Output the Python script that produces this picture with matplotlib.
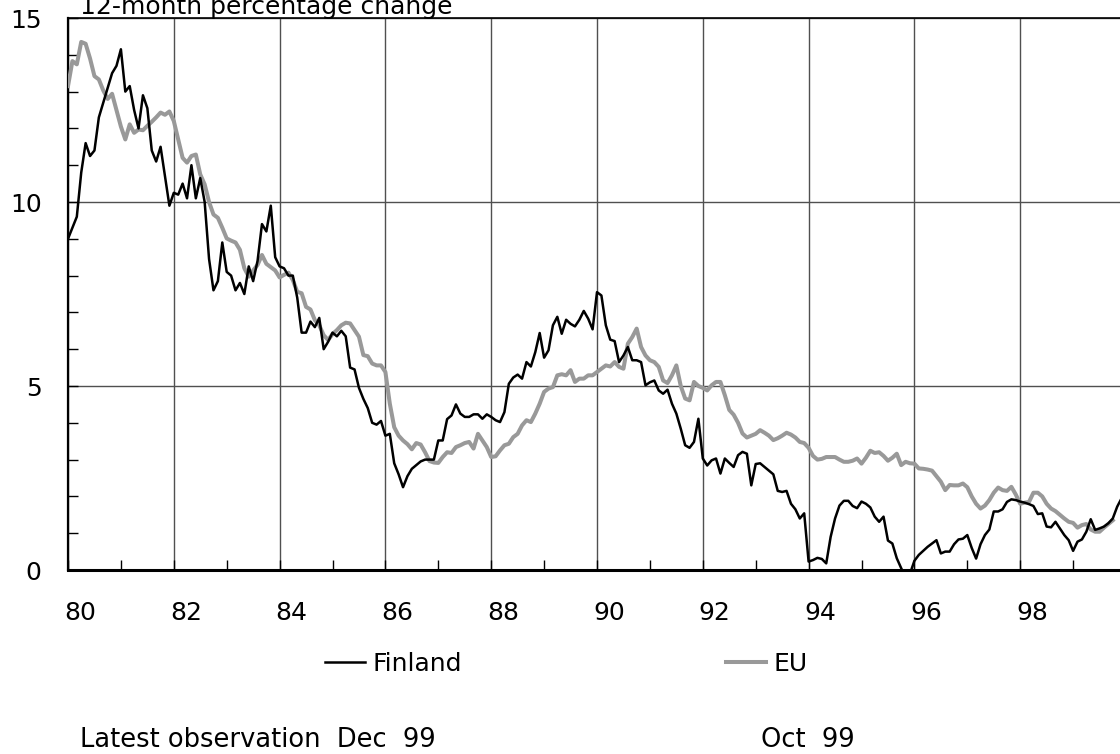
import matplotlib
matplotlib.use("Agg")
import matplotlib.pyplot as plt
import matplotlib.transforms as mtransforms
import numpy as np

# 12-month percentage change, monthly, Jan 1980 onwards
finland = [
    9.0, 9.3, 9.6, 10.8, 11.6, 11.25, 11.4, 12.3, 12.7, 13.1, 13.5, 13.7,          # 80
    14.15, 13.0, 13.15, 12.5, 12.0, 12.9, 12.55, 11.4, 11.1, 11.5, 10.7, 9.9,      # 81
    10.25, 10.2, 10.5, 10.1, 11.0, 10.1, 10.65, 10.0, 8.45, 7.6, 7.85, 8.9,        # 82
    8.1, 8.0, 7.6, 7.8, 7.5, 8.25, 7.85, 8.4, 9.4, 9.2, 9.9, 8.5,                  # 83
    8.25, 8.2, 8.0, 8.0, 7.4, 6.45, 6.45, 6.75, 6.6, 6.85, 6.0, 6.2,               # 84
    6.45, 6.35, 6.5, 6.35, 5.5, 5.45, 4.95, 4.65, 4.4, 4.0, 3.95, 4.05,            # 85
    3.65, 3.7, 2.9, 2.6, 2.25, 2.55, 2.75, 2.85, 2.95, 3.0, 3.0, 3.0,              # 86
    3.52, 3.52, 4.1, 4.2, 4.5, 4.25, 4.16, 4.16, 4.23, 4.23, 4.11, 4.23,           # 87
    4.16, 4.07, 4.02, 4.29, 5.06, 5.23, 5.31, 5.2, 5.65, 5.53, 5.92, 6.44,         # 88
    5.77, 5.97, 6.65, 6.88, 6.42, 6.8, 6.69, 6.62, 6.8, 7.04, 6.83, 6.54,          # 89
    7.55, 7.46, 6.65, 6.26, 6.22, 5.65, 5.83, 6.06, 5.7, 5.7, 5.65, 5.02,          # 90
    5.1, 5.15, 4.88, 4.79, 4.9, 4.52, 4.25, 3.84, 3.39, 3.32, 3.48, 4.11,          # 91
    3.03, 2.84, 2.98, 3.03, 2.62, 3.03, 2.91, 2.8, 3.12, 3.21, 3.16, 2.3,          # 92
    2.88, 2.9, 2.8, 2.7, 2.6, 2.15, 2.12, 2.15, 1.8, 1.65, 1.4, 1.54,              # 93
    0.23, 0.27, 0.33, 0.3, 0.18, 0.9, 1.4, 1.75, 1.88, 1.88, 1.74, 1.68,           # 94
    1.86, 1.8, 1.7, 1.45, 1.31, 1.45, 0.8, 0.72, 0.32, 0.05, -0.2, -0.1,           # 95
    0.25, 0.41, 0.52, 0.63, 0.72, 0.81, 0.45, 0.5, 0.5, 0.7, 0.83, 0.85,           # 96
    0.95, 0.6, 0.31, 0.7, 0.95, 1.1, 1.59, 1.59, 1.65, 1.85, 1.92, 1.9,            # 97
    1.86, 1.83, 1.79, 1.74, 1.52, 1.54, 1.18, 1.16, 1.31, 1.13, 0.95, 0.81,        # 98
    0.52, 0.77, 0.83, 1.04, 1.38, 1.09, 1.13, 1.18, 1.27, 1.4, 1.72, 1.95,         # 99
]

eu = [
    13.15, 13.83, 13.74, 14.35, 14.3, 13.9, 13.42, 13.33, 13.03, 12.8, 12.94, 12.5,   # 80
    12.05, 11.7, 12.11, 11.88, 11.97, 11.95, 12.07, 12.18, 12.3, 12.43, 12.37, 12.46, # 81
    12.2, 11.7, 11.2, 11.07, 11.25, 11.29, 10.75, 10.48, 10.0, 9.66, 9.57, 9.3,       # 82
    9.01, 8.95, 8.9, 8.7, 8.2, 7.97, 8.14, 8.29, 8.56, 8.32, 8.23, 8.14,              # 83
    7.95, 8.02, 8.08, 7.88, 7.56, 7.52, 7.15, 7.08, 6.79, 6.65, 6.38, 6.25,           # 84
    6.41, 6.52, 6.65, 6.72, 6.7, 6.52, 6.34, 5.84, 5.81, 5.61, 5.56, 5.56,            # 85
    5.38, 4.52, 3.88, 3.65, 3.52, 3.42, 3.28, 3.45, 3.41, 3.2, 2.96, 2.92,            # 86
    2.91, 3.07, 3.2, 3.18, 3.34, 3.39, 3.45, 3.48, 3.3, 3.7, 3.52, 3.34,              # 87
    3.07, 3.09, 3.25, 3.39, 3.43, 3.61, 3.7, 3.93, 4.07, 4.02, 4.25, 4.52,            # 88
    4.84, 4.93, 4.97, 5.29, 5.32, 5.29, 5.43, 5.11, 5.2, 5.2, 5.29, 5.29,             # 89
    5.38, 5.47, 5.56, 5.53, 5.65, 5.52, 5.47, 6.15, 6.33, 6.56, 6.06, 5.83,           # 90
    5.7, 5.65, 5.52, 5.15, 5.08, 5.29, 5.56, 5.0, 4.66, 4.61, 5.11, 5.0,              # 91
    4.95, 4.88, 5.02, 5.11, 5.11, 4.75, 4.35, 4.22, 4.0, 3.71, 3.6, 3.65,             # 92
    3.7, 3.8, 3.73, 3.65, 3.53, 3.58, 3.65, 3.73, 3.68, 3.6, 3.48, 3.45,              # 93
    3.32, 3.1, 3.0, 3.02, 3.07, 3.07, 3.07, 3.0, 2.94, 2.94, 2.97, 3.03,              # 94
    2.89, 3.05, 3.24, 3.18, 3.2, 3.1, 2.97, 3.05, 3.16, 2.85, 2.94, 2.9,              # 95
    2.89, 2.76, 2.75, 2.73, 2.7, 2.55, 2.4, 2.17, 2.31, 2.3, 2.3, 2.35,               # 96
    2.25, 2.0, 1.8, 1.67, 1.75, 1.9, 2.1, 2.24, 2.17, 2.15, 2.26, 2.05,               # 97
    1.8, 1.83, 1.85, 2.1, 2.1, 2.0, 1.8, 1.67, 1.6, 1.5, 1.4, 1.31,                   # 98
    1.28, 1.15, 1.22, 1.25, 1.1, 1.04, 1.04, 1.15, 1.25, 1.35,                        # 99 (to Oct)
]

year_ticks = [80, 82, 84, 86, 88, 90, 92, 94, 96, 98]
year_labels = ["80", "82", "84", "86", "88", "90", "92", "94", "96", "98"]
y_ticks = [0, 5, 10, 15]

t_fin = 80 + np.arange(len(finland)) / 12
t_eu = 80 + np.arange(len(eu)) / 12

plt.rcParams['font.family'] = ['DejaVu Sans']
FS = 18

fig = plt.figure(figsize=(11.2, 7.54), dpi=100)
ax = fig.add_axes([68 / 1120, 184 / 754, 1058 / 1120, 552 / 754])

ax.plot(t_eu, eu, color='#999999', lw=2.9, label='EU', zorder=3)
ax.plot(t_fin, finland, color='black', lw=1.8, label='Finland', zorder=4)

ax.set_xlim(80, 100)
ax.set_ylim(0, 15)

ax.set_xticks(year_ticks)
ax.set_xticklabels(year_labels, fontsize=FS)
ax.set_xticks(np.arange(81, 100, 2), minor=True)
ax.set_yticks(y_ticks)
ax.set_yticklabels([str(v) for v in y_ticks], fontsize=FS)
ax.set_yticks(np.arange(0, 16, 1), minor=True)

ax.tick_params(axis='x', which='both', direction='in', length=7, width=1, pad=22)
ax.tick_params(axis='y', which='both', direction='in', length=7, width=1, pad=19)

# labels sit a bit to the right of their year line
shift = mtransforms.ScaledTranslation(0.12, 0, fig.dpi_scale_trans)
for lab in ax.get_xticklabels():
    lab.set_transform(lab.get_transform() + shift)

ax.grid(True, which='major', color='#505050', lw=1.0, zorder=1)

ax.spines['left'].set_linewidth(1.6)
ax.spines['bottom'].set_linewidth(2.2)
ax.spines['top'].set_linewidth(1.2)
ax.spines['right'].set_visible(False)

fig.text(80 / 1120, 1 - 14 / 754, "12-month percentage change", fontsize=FS,
         ha='left', va='baseline')

h_eu, h_fin = ax.get_legend_handles_labels()[0]
fig.legend([h_fin, h_eu], ['Finland', 'EU'], loc='center left',
           bbox_to_anchor=(325 / 1120, 1 - 664 / 754), ncol=2, frameon=False,
           fontsize=FS, handlelength=1.6, handletextpad=0.3, columnspacing=10.55,
           borderpad=0, borderaxespad=0)

fig.text(80 / 1120, 1 - 740 / 754, "Latest observation  Dec  99", fontsize=18.5,
         ha='left', va='center')
fig.text(761 / 1120, 1 - 740 / 754, "Oct  99", fontsize=18.5, ha='left', va='center')

fig.savefig('out.png', dpi=100)
